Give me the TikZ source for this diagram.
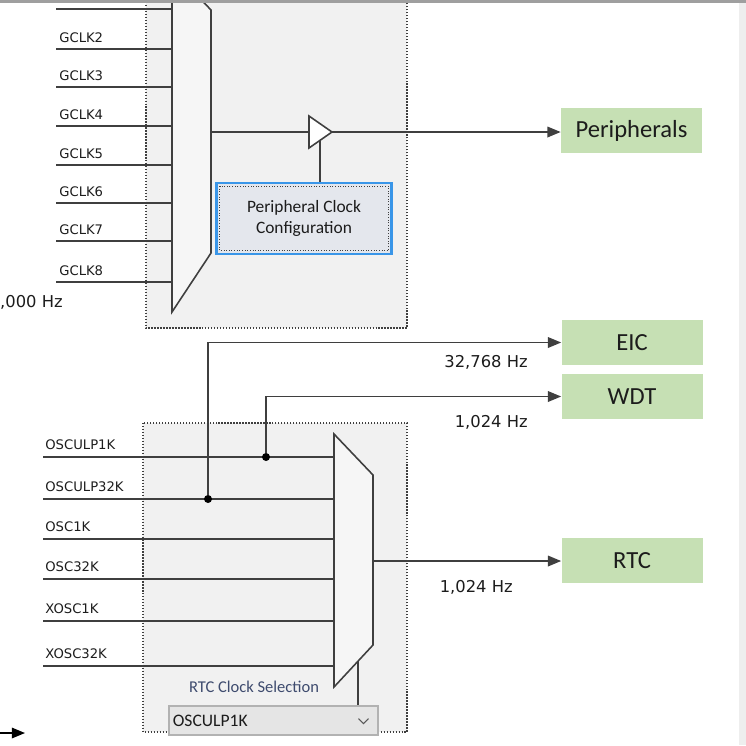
\documentclass[tikz,border=0pt]{standalone}
\usepackage{fontspec}
\setmainfont{Carlito}
\newfontfamily\labelfont{DejaVu Sans}
\usetikzlibrary{arrows.meta, positioning, calc}
\definecolor{wiregray}{HTML}{3F3F3F}
\definecolor{panel}{HTML}{F1F1F1}
\definecolor{muxfill}{HTML}{F6F6F6}
\definecolor{destgreen}{HTML}{C6E0B4}
\definecolor{pccfill}{HTML}{E4E7ED}
\definecolor{pccblue}{HTML}{3A96E8}
\definecolor{seltext}{HTML}{3E4B6E}
\definecolor{textdark}{HTML}{1C1C1C}
\tikzset{
    wire/.style = {draw=wiregray, line width=0.9pt},
    sig/.style = {wire, -{Triangle[length=7.5pt,width=6pt]}},
    panelbox/.style = {draw=wiregray, densely dotted, line width=0.7pt, fill=panel},
    dest/.style = {fill=destgreen, minimum width=2.82cm, minimum height=0.9cm,
        inner sep=0pt, text=textdark, font=\fontsize{14}{16}\selectfont},
    inlabel/.style = {anchor=south west, inner sep=0pt, text=textdark,
        font=\labelfont\fontsize{7.5}{9}\selectfont},
    freq/.style = {anchor=east, inner sep=0pt, text=textdark,
        font=\labelfont\fontsize{9.3}{11}\selectfont},
    joint/.style = {circle, fill=black, inner sep=0pt, minimum size=0.16cm},
}

\begin{document}
\begin{tikzpicture}[x=0.02cm, y=-0.02cm]
\useasboundingbox (0,0) rectangle (746,745);
\clip (0,0) rectangle (746,745);

% generic clock block
\draw[panelbox] (146,-10) rectangle (407,328);
\draw[wire, fill=muxfill] (172,-31) -- (211,10) -- (211,253) -- (172,312) -- cycle;
\coordinate (gmux-out) at (211,132);

\draw[wire] (56,9) -- (172,9);
\foreach \y/\name in {49/GCLK2, 87/GCLK3, 126/GCLK4, 165/GCLK5, 203/GCLK6, 241/GCLK7, 282/GCLK8}{
    \coordinate (\name-in) at (56,\y);
    \draw[wire] (\name-in) -- (172,\y);
    \node[inlabel] (\name) at ($(\name-in)+(3,-6)$) {\name};
}
\node[freq] (gfreq) at (63,302) {,000 Hz};

% peripheral clock gate
\coordinate (buf-in) at (309,132);
\coordinate (buf-out) at (332,132);
\coordinate (buf-ctl) at (320,140);
\draw[wire] (gmux-out) -- (buf-in);
\draw[wire, fill=white] (309,116) -- (buf-out) -- (309,148) -- cycle;

\node[draw=pccblue, line width=1.2pt, fill=pccfill, minimum width=3.5cm, minimum height=1.42cm,
    align=center, inner sep=0pt, text=textdark, font=\fontsize{9.9}{12}\selectfont]
    (pcc) at (304,218.5) {Peripheral Clock\\Configuration};
\draw[densely dotted, line width=0.5pt, draw=wiregray]
    ([shift={(2.4pt,-2.4pt)}]pcc.north west) rectangle ([shift={(-2.4pt,2.4pt)}]pcc.south east);
\draw[wire] (buf-ctl) -- (buf-ctl |- pcc.north);

\node[dest] (periph) at (631.5,130.5) {Peripherals};
\draw[sig] (buf-out) -- (periph.west |- buf-out);

% destinations of the low power clocks
\node[dest] (eic) at (632,342.5) {EIC};
\node[dest] (wdt) at (632,396.5) {WDT};
\node[dest] (rtc) at (632,560.5) {RTC};

% RTC clock block
\draw[panelbox] (143,423) rectangle (407,732);
\draw[wire, fill=muxfill] (334,434) -- (373,475) -- (373,645) -- (334,687) -- cycle;
\coordinate (rmux-out) at (373,561);
\coordinate (rmux-sel) at (358,661);

\foreach \y/\name in {457/OSCULP1K, 499/OSCULP32K, 539/OSC1K, 579/OSC32K, 621/XOSC1K, 666/XOSC32K}{
    \coordinate (\name-in) at (43,\y);
    \draw[wire] (\name-in) -- (334,\y);
    \node[inlabel] (\name) at ($(\name-in)+(2,-7)$) {\name};
}

\node[joint] (j32) at (208,499) {};
\node[joint] (j1) at (266,457) {};
\draw[sig] (j32) |- (eic.west);
\draw[sig] (j1) |- (wdt.west);
\draw[sig] (rmux-out) -- (rtc.west |- rmux-out);

\node[freq] (eicfreq) at (528,362) {32,768 Hz};
\node[freq] (wdtfreq) at (528,422) {1,024 Hz};
\node[freq] (rtcfreq) at (513,587) {1,024 Hz};

\node[text=seltext, inner sep=0pt, font=\fontsize{9.4}{11}\selectfont] (seltitle) at (254,687) {RTC Clock Selection};
\node[draw=gray!60, fill=gray!20, line width=0.6pt, minimum width=4.18cm, minimum height=0.58cm, inner sep=0pt]
    (rtcsel) at (273.5,720.5) {};
\node[anchor=west, inner sep=0pt, text=textdark, font=\fontsize{10}{12}\selectfont]
    (rtcsel-val) at ($(rtcsel.west)+(4,0)$) {OSCULP1K};
\draw[gray!70!black, line width=0.6pt] ($(rtcsel.east)+(-20,-2)$) -- ($(rtcsel.east)+(-15,3)$) -- ($(rtcsel.east)+(-10,-2)$);
\draw[wire] (rmux-sel) -- (rmux-sel |- rtcsel.north);

% stray arrow at the lower left
\coordinate (stray) at (0,733);
\draw[sig, draw=black] (stray) -- (25,733);

% frame of the window
\fill[gray!75] (0,0) rectangle (746,2.5);
\fill[gray!13] (739,2.5) rectangle (746,745);
\end{tikzpicture}
\end{document}
